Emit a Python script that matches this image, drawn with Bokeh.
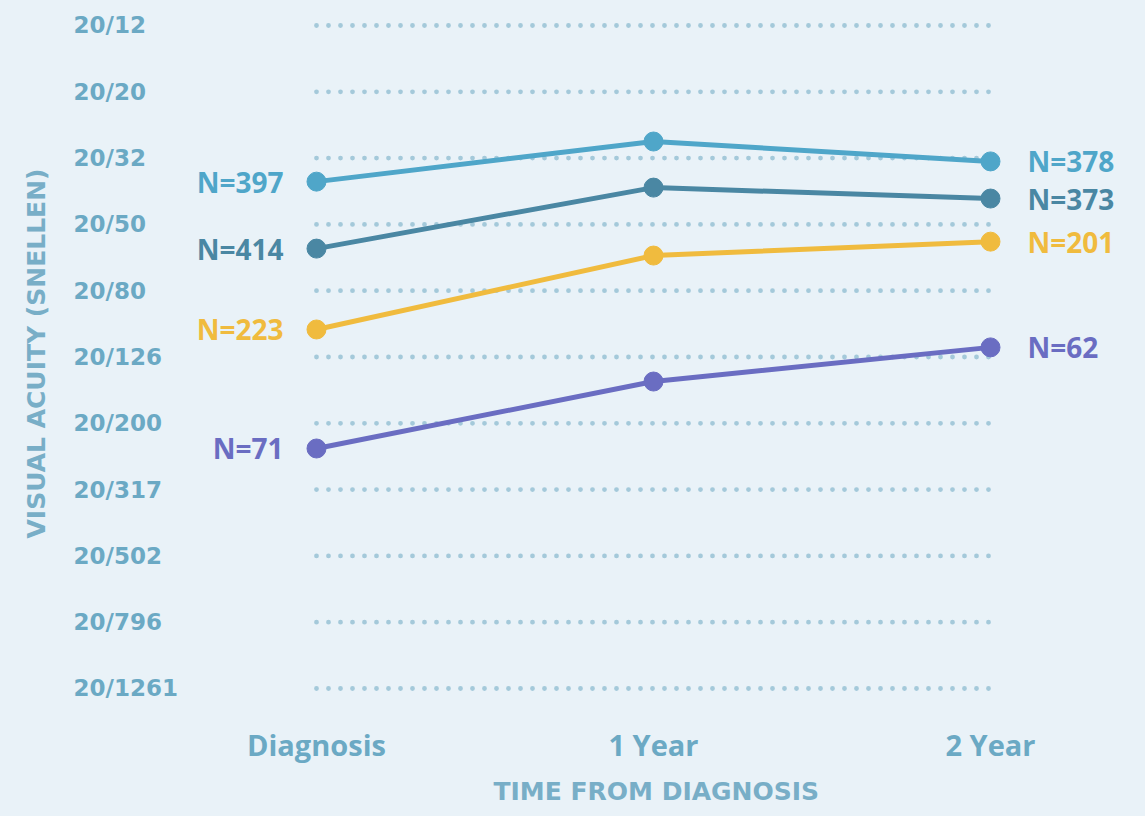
from bokeh.plotting import figure
from bokeh.models import Range1d, FixedTicker, Title
from bokeh.core.properties import value
from bokeh.embed import file_html
from bokeh.resources import INLINE

# ---- data ----
stages = ["Diagnosis", "1 Year", "2 Year"]
stage_x = [0, 1, 2]
acuity_ticks = [-0.2, 0.0, 0.2, 0.4, 0.6, 0.8, 1.0, 1.2, 1.4, 1.6, 1.8]   # logMAR
acuity_labels = ["20/12", "20/20", "20/32", "20/50", "20/80", "20/126",
                 "20/200", "20/317", "20/502", "20/796", "20/1261"]

series_a = [0.271, 0.150, 0.210]
series_b = [0.473, 0.289, 0.322]
series_c = [0.717, 0.494, 0.452]
series_d = [1.076, 0.874, 0.771]
n_start = ["N=397", "N=414", "N=223", "N=71"]
n_end = ["N=378", "N=373", "N=201", "N=62"]

colors = ["#4fa6c9", "#4a87a3", "#f0bb3e", "#6a6dc2"]
BG = "#e9f2f8"
TICK = "#6ba9c4"
TITLE = "#78aec7"
FONT = "Open Sans"
WIDE = "DejaVu Sans"

p = figure(width=1145, height=816, output_backend="svg", toolbar_location=None,
           x_range=Range1d(-0.7893, 2.4599), y_range=Range1d(1.8543, -0.2754),
           min_border_left=50, min_border_right=0, min_border_top=0,
           min_border_bottom=110)
p.background_fill_color = BG
p.border_fill_color = BG
p.outline_line_color = None
p.xgrid.visible = False
p.ygrid.visible = False

# x axis
p.xaxis.ticker = FixedTicker(ticks=stage_x)
p.xaxis.major_label_overrides = {x: s for x, s in zip(stage_x, stages)}
p.xaxis.axis_line_color = None
p.xaxis.major_tick_line_color = None
p.xaxis.minor_tick_line_color = None
p.xaxis.major_label_text_font = FONT
p.xaxis.major_label_text_font_style = "bold"
p.xaxis.major_label_text_font_size = "29px"
p.xaxis.major_label_text_color = TICK
p.xaxis.major_label_standoff = 12

# x axis title, centred under the middle stage
p.add_layout(Title(text="TIME FROM DIAGNOSIS", align="left", offset=443,
                   text_font=WIDE, text_font_style="bold", text_font_size="25px",
                   text_color=TITLE, standoff=17), "below")

# y axis: title only
p.yaxis.ticker = FixedTicker(ticks=[])
p.yaxis.axis_line_color = None
p.yaxis.major_tick_line_color = None
p.yaxis.minor_tick_line_color = None
p.yaxis.axis_label = "VISUAL ACUITY (SNELLEN)"
p.yaxis.axis_label_text_font = WIDE
p.yaxis.axis_label_text_font_style = "bold"
p.yaxis.axis_label_text_font_size = "25px"
p.yaxis.axis_label_text_color = TITLE
p.yaxis.axis_label_standoff = 0

# dotted grid rows between first and last stage
n = len(acuity_ticks)
p.segment(x0=[stage_x[0]] * n, x1=[stage_x[-1]] * n, y0=acuity_ticks, y1=acuity_ticks,
          line_color="#a4c9da", line_width=4.8, line_dash="0 12", line_cap="round")

# y tick labels (left aligned)
p.text(x=[-0.7211] * n, y=acuity_ticks, text=acuity_labels,
       text_font=value(WIDE), text_font_style="bold", text_font_size="23px",
       text_color=TICK, text_align="left", text_baseline="middle")

for vals, c, l0, l1 in zip([series_a, series_b, series_c, series_d], colors, n_start, n_end):
    p.line(stage_x, vals, line_color=c, line_width=5)
    p.scatter(stage_x, vals, size=19, fill_color=c, line_color=c)
    p.text(x=[stage_x[0]], y=[vals[0]], text=[l0], x_offset=-33,
           text_font=value(FONT), text_font_style="bold", text_font_size="28px",
           text_color=c, text_align="right", text_baseline="middle")
    p.text(x=[stage_x[-1]], y=[vals[-1]], text=[l1], x_offset=37,
           text_font=value(FONT), text_font_style="bold", text_font_size="28px",
           text_color=c, text_align="left", text_baseline="middle")

html = file_html(p, INLINE)
html = html.replace("<head>", "<head><style>html,body{background:%s;}</style>" % BG, 1)
open("out.html", "w").write(html)
